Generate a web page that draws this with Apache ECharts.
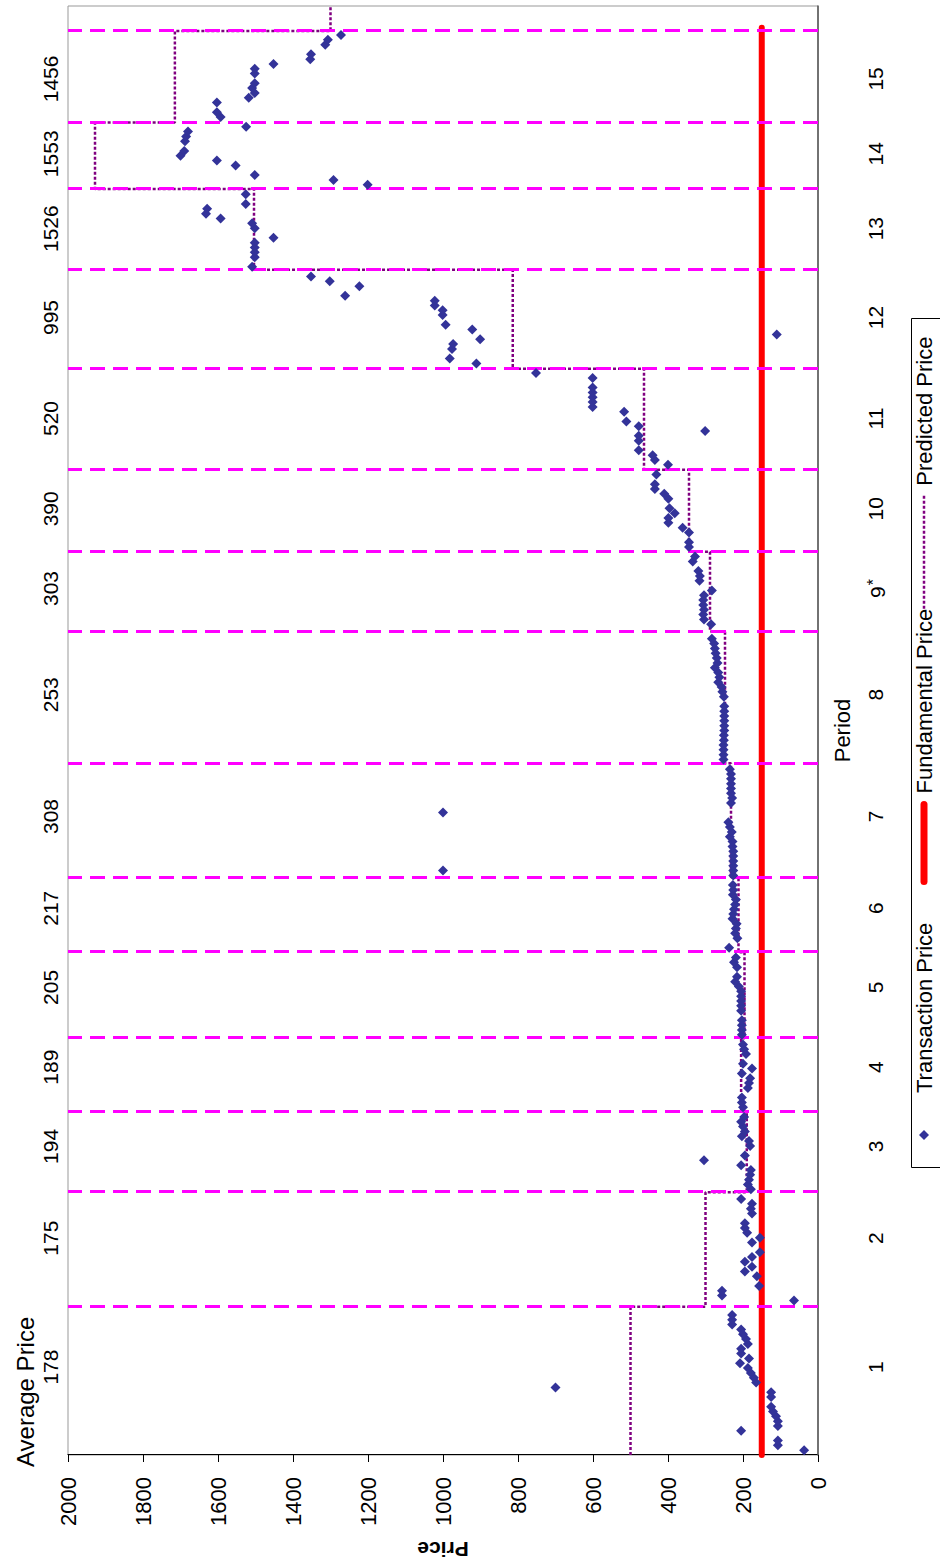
<!DOCTYPE html>
<html><head><meta charset="utf-8">
<script src="https://cdn.jsdelivr.net/npm/echarts@6/dist/echarts.min.js"></script>
<style>
html,body{margin:0;padding:0;overflow:hidden;background:#fff;width:940px;height:1566px;}
#wrap{position:absolute;left:0;top:0;width:1566px;height:940px;transform-origin:0 0;transform:translate(0,1566px) rotate(-90deg);background:#fff;}
</style></head><body><div id="wrap"></div>
<script>
// ---- data ----
const periodNames = ['1','2','3','4','5','6','7','8','9*','10','11','12','13','14','15'];
const averagePrices = ['178','175','194','189','205','217','308','253','303','390','520','995','1526','1553','1456'];
const periodLabelAt = [18.2,44.9,63.9,80.3,96.8,113.2,132.2,157.4,179.4,195.9,214.6,235.5,253.9,269.4,284.9];
const periodEnds = [30.7,54.4,71,86.3,104.1,119.6,143.2,170.5,187,204,224.9,245.4,262.1,275.9,294.8];
const predictedPrices = [500,300,190,205,196,212,232,248,288,344,464,814,1504,1928,1715,1300];
const fundamentalPrice = 150;
const fundamentalRange = [0,295.5];
const transactionRange = [0,300];
const priceTicks = [0,200,400,600,800,1000,1200,1400,1600,1800,2000];
const tradeNo = [
 1,2,3,5,6,7,8,9,10,12,13,14,15,16,17,18,19,20,21,22,23,24,25,26,27,28,29,
 32,33,34,35,37,38,39,40,41,42,44,45,46,47,48,50,51,52,53,
 55,56,57,58,59,60,61,62,64,65,66,67,68,69,70,
 72,73,74,76,77,78,79,80,81,83,84,85,
 87,88,89,90,92,93,94,95,96,97,98,99,101,102,103,
 105,107,108,109,110,111,112,113,114,115,116,117,118,
 120,121,121,122,123,124,125,126,127,128,129,130,131,133,135,136,137,138,139,140,141,142,
 144,145,146,147,148,149,150,151,152,153,154,155,157,158,159,160,161,162,163,164,165,166,167,168,169,
 172,173,174,175,176,177,178,179,181,182,183,185,186,
 188,189,191,192,193,194,195,196,198,199,200,201,203,
 205,206,207,208,210,211,212,213,214,216,217,218,219,220,221,223,224,
 226,227,229,230,231,232,233,234,236,237,238,239,240,242,243,244,
 246,248,249,250,251,252,254,255,256,257,258,259,261,
 263,264,265,267,268,269,270,272,273,274,275,
 277,278,280,281,282,283,284,286,287,288,289,290,292,293,294
];
const tradePrice = [
 37,107,107,205,107,107,112,120,125,125,125,700,165,171,179,187,208,184,205,205,187,192,200,205,229,229,229,
 64,256,256,157,163,195,176,195,176,155,176,155,189,195,195,176,179,176,205,
 179,187,184,181,179,205,304,195,181,184,203,195,200,205,197,
 200,203,203,187,184,181,203,176,200,192,197,200,
 203,203,203,203,205,205,205,205,205,211,221,216,216,224,219,
 237,215,221,219,217,228,226,224,221,219,227,226,227,
 226,226,1000,226,226,226,226,228,228,235,230,235,239,1000,232,229,232,232,232,232,232,235,
 252,252,252,252,251,251,250,250,250,250,250,250,251,255,257,266,263,266,275,268,270,273,275,277,283,
 285,304,306,304,306,306,304,283,316,315,319,334,328,
 344,344,344,361,399,399,382,396,399,410,435,435,431,
 400,435,441,478,478,478,301,478,511,517,601,601,601,601,601,601,752,
 911,982,976,973,901,110,922,993,1001,1001,1022,1022,1261,1223,1302,1352,
 1509,1502,1502,1502,1502,1452,1502,1509,1593,1632,1629,1526,1526,
 1201,1292,1502,1553,1603,1700,1690,1688,1685,1680,1525,
 1593,1603,1603,1518,1502,1509,1502,1502,1502,1452,1354,1352,1314,1307,1272
];

// ---- build ----
const FONT = "'Liberation Sans', Arial, sans-serif";
const scatterData = tradeNo.map((n, i) => [n, tradePrice[i]]);
const starts = [transactionRange[0]].concat(periodEnds);
const ends = periodEnds.concat([transactionRange[1]]);
const stepData = [];
predictedPrices.forEach((p, i) => { stepData.push([starts[i], p]); stepData.push([ends[i], p]); });
function nearestIdx(v) {
  let best = 0, d = Infinity;
  periodLabelAt.forEach((x, i) => { const dd = Math.abs(x - v); if (dd < d) { d = dd; best = i; } });
  return best;
}

const chart = echarts.init(document.getElementById('wrap'), null, { renderer: 'svg', width: 1566, height: 940 });
chart.setOption({
  animation: false,
  backgroundColor: '#fff',
  textStyle: { fontFamily: FONT },
  title: {
    text: 'Average Price', left: 94, top: 8,
    textStyle: { fontFamily: FONT, fontSize: 24, fontWeight: 'normal', color: '#000' }
  },
  grid: { left: 111, right: 6, top: 68, bottom: 122, containLabel: false, outerBoundsMode: 'none',
          show: true, borderColor: '#999', borderWidth: 1, backgroundColor: '#fff' },
  xAxis: [
    {
      type: 'value', position: 'bottom', min: transactionRange[0], max: transactionRange[1],
      name: 'Period', nameLocation: 'middle', nameGap: 13, nameMoveOverlap: false,
      nameTextStyle: { fontFamily: FONT, fontSize: 22, color: '#000' },
      axisLine: { show: true, onZero: false, lineStyle: { color: '#555', width: 1.5 } },
      axisTick: { show: false }, splitLine: { show: false },
      axisLabel: {
        customValues: periodLabelAt, margin: 47, fontSize: 21, color: '#000', fontFamily: FONT,
        formatter: v => { const t = periodNames[nearestIdx(v)]; return t === '9*' ? '{n|9}{s|*}' : t; },
        rich: { n: { fontSize: 21, fontFamily: FONT, color: '#000' },
                s: { fontSize: 16, fontFamily: FONT, color: '#000', verticalAlign: 'top', padding: [0, 0, 8, 1] } }
      }
    },
    {
      type: 'value', position: 'top', min: transactionRange[0], max: transactionRange[1],
      axisLine: { show: false }, axisTick: { show: false }, splitLine: { show: false },
      axisLabel: {
        customValues: periodLabelAt, margin: 7, fontSize: 21, color: '#000', fontFamily: FONT,
        formatter: v => averagePrices[nearestIdx(v)]
      }
    }
  ],
  yAxis: {
    type: 'value', min: priceTicks[0], max: priceTicks[priceTicks.length - 1], interval: priceTicks[1] - priceTicks[0],
    name: 'Price', nameLocation: 'middle', nameRotate: 90, nameGap: 84, nameMoveOverlap: false,
    nameTextStyle: { fontFamily: FONT, fontSize: 21, fontWeight: 'bold', color: '#000' },
    axisLine: { show: true, lineStyle: { color: '#000', width: 1 } },
    axisTick: { show: true, inside: false, length: 7, lineStyle: { color: '#000' } },
    splitLine: { show: false },
    axisLabel: { fontSize: 22, color: '#000', margin: 22, fontFamily: FONT, formatter: v => String(v) }
  },
  legend: [
    { data: ['Transaction Price'], left: 426, top: 913, padding: 0, itemWidth: 10, itemHeight: 10, selectedMode: false,
      itemStyle: { opacity: 1 },
      textStyle: { fontFamily: FONT, fontSize: 22, color: '#000', padding: [0, 0, 0, 32] } },
    { data: ['Fundamental Price'], left: 681, top: 913, padding: 0, itemWidth: 77, itemHeight: 16, selectedMode: false,
      itemStyle: { opacity: 0 },
      lineStyle: { width: 7, color: '#FF0000', cap: 'round' },
      textStyle: { fontFamily: FONT, fontSize: 22, color: '#000', padding: [0, 0, 0, 6] } },
    { data: ['Predicted Price'], left: 956, top: 913, padding: 0, itemWidth: 113, itemHeight: 16, selectedMode: false,
      itemStyle: { opacity: 0 },
      lineStyle: { width: 2.5, color: '#800080', type: [3, 2] },
      textStyle: { fontFamily: FONT, fontSize: 22, color: '#000', padding: [0, 0, 0, 5] } }
  ],
  graphic: [
    { type: 'rect', left: 396, top: 909, shape: { width: 849, height: 60 }, silent: true,
      style: { fill: 'none', stroke: '#000', lineWidth: 1 } }
  ],
  series: [
    {
      name: 'Period boundaries', type: 'line', data: [], z: 1, silent: true,
      markLine: {
        silent: true, symbol: 'none', label: { show: false }, animation: false,
        lineStyle: { color: '#FF00FF', width: 3, type: [15, 8] },
        emphasis: { disabled: true },
        data: periodEnds.map(b => ({ xAxis: b }))
      }
    },
    {
      name: 'Predicted Price', type: 'line', data: stepData, z: 3, symbol: 'none', showSymbol: false, silent: true,
      lineStyle: { color: '#800080', width: 2.5, type: [3, 2] }, itemStyle: { color: '#800080' }
    },
    {
      name: 'Fundamental Price', type: 'line', z: 4, symbol: 'none', showSymbol: false, silent: true,
      data: [[fundamentalRange[0], fundamentalPrice], [fundamentalRange[1], fundamentalPrice]],
      lineStyle: { color: '#FF0000', width: 6, cap: 'round' }, itemStyle: { color: '#FF0000' }
    },
    {
      name: 'Transaction Price', type: 'scatter', z: 5, data: scatterData, symbol: 'diamond', symbolSize: 10,
      itemStyle: { color: '#333399', opacity: 1 }, silent: true
    }
  ]
});
</script></body></html>
